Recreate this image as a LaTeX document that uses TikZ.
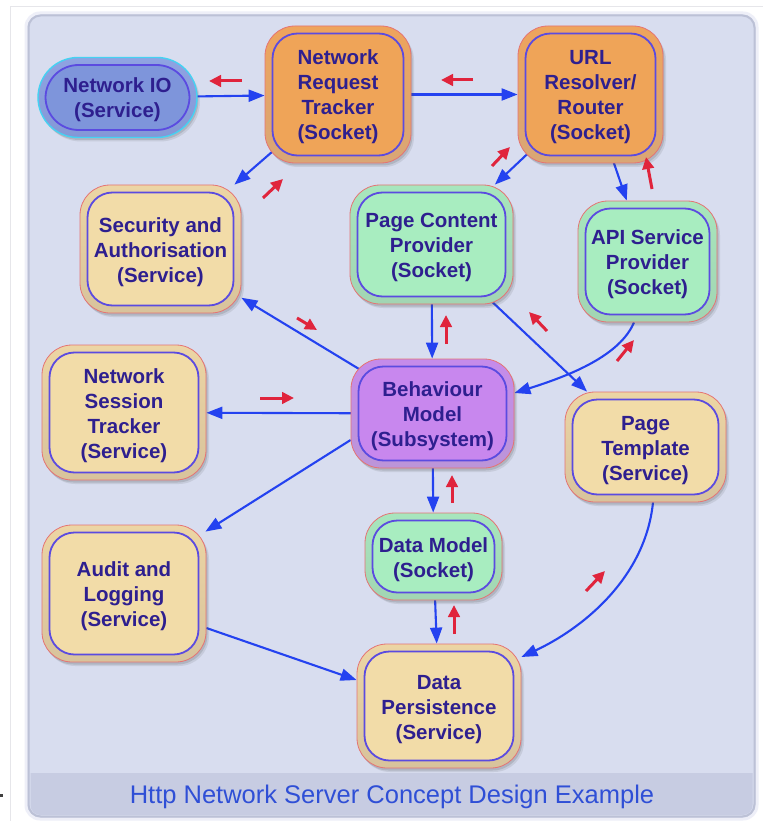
\documentclass[tikz,border=0pt]{standalone}
\usepackage{fontspec}
\setmainfont{Liberation Sans}
\usetikzlibrary{arrows.meta,shadows}

\definecolor{panelbg}{HTML}{D8DDEF}
\definecolor{panelrim}{HTML}{EEEFF8}
\definecolor{panelshade}{HTML}{BCC1D6}
\definecolor{bandbg}{HTML}{C7CCE2}
\definecolor{captionblue}{HTML}{2F4FD6}
\definecolor{framegray}{HTML}{E6E6EA}
\definecolor{ink}{HTML}{2E1F8F}
\definecolor{innerline}{HTML}{5B4BE0}
\definecolor{edgeblue}{HTML}{2442F0}
\definecolor{hintred}{HTML}{E0243C}
\definecolor{rimred}{HTML}{E57373}
\definecolor{tanin}{HTML}{F2DCA8}
\definecolor{tantop}{HTML}{ECD5A4}
\definecolor{tanbot}{HTML}{D8C39C}
\definecolor{greenin}{HTML}{A8EDC0}
\definecolor{greentop}{HTML}{A7E6BD}
\definecolor{greenbot}{HTML}{A2D5B3}
\definecolor{orangein}{HTML}{EFA458}
\definecolor{orangetop}{HTML}{EEA45C}
\definecolor{orangebot}{HTML}{D9A676}
\definecolor{purplein}{HTML}{C887EE}
\definecolor{purpletop}{HTML}{C58BEA}
\definecolor{purplebot}{HTML}{BC95D8}
\definecolor{bluein}{HTML}{7E95DB}
\definecolor{bluetop}{HTML}{8FA3E2}
\definecolor{bluebot}{HTML}{8498D6}
\definecolor{cyanrim}{HTML}{45D2F2}

\pgfdeclarelayer{back}
\pgfdeclarelayer{edges}
\pgfsetlayers{back,edges,main}

% centred block of lines, drawn a little below the box centre
\newcommand\boxlines[1]{\raisebox{-3pt}[\height][\depth]{\begin{tabular}{@{}c@{}}#1\end{tabular}}}

\tikzset{
  inner fill/.store in=\innerfill, inner fill=white,
  inner radius/.store in=\innerrad, inner radius=25pt,
  box/.style={
    rounded corners=30pt, draw=rimred, line width=0.8pt,
    inner sep=0pt, text=ink,
    font=\fontsize{20.5}{25}\selectfont\bfseries,
    drop shadow={shadow xshift=3pt,shadow yshift=-4pt,opacity=.12,fill=black!70},
    drop shadow={shadow xshift=1.5pt,shadow yshift=-2.5pt,opacity=.18,fill=black!70},
    path picture={
      \draw[line width=1.8pt, draw=innerline, fill=\innerfill, rounded corners=\innerrad]
        ([shift={(7.5pt,-7.5pt)}]path picture bounding box.north west) rectangle
        ([shift={(-7.5pt,7.5pt)}]path picture bounding box.south east);
    }},
  tanbox/.style={box, inner fill=tanin, top color=tantop, bottom color=tanbot},
  greenbox/.style={box, inner fill=greenin, top color=greentop, bottom color=greenbot},
  orangebox/.style={box, inner fill=orangein, top color=orangetop, bottom color=orangebot},
  purplebox/.style={box, inner fill=purplein, top color=purpletop, bottom color=purplebot},
  bluebox/.style={box, inner fill=bluein, top color=bluetop, bottom color=bluebot,
    draw=cyanrim, line width=1.4pt, rounded corners=40pt, inner radius=33pt},
  edge/.style={draw=edgeblue, line width=2.1pt, -{Triangle[length=16pt,width=12pt]}},
  hint/.style={draw=hintred, line width=3pt, -{Triangle[length=12pt,width=11.5pt]}},
}

\begin{document}
\begin{tikzpicture}[x=1pt,y=-1pt]
\useasboundingbox (0,0) rectangle (763,821);

% page frame and panel
\begin{pgfonlayer}{back}
  \fill[white] (0,0) rectangle (763,821);
  \draw[framegray, line width=0.8pt] (10,821) -- (10,6) -- (763,6);
  \fill[black!75] (0,794) rectangle (3,797);
  \draw[panelrim, line width=3pt, fill=panelbg, rounded corners=14pt] (26,13) rectangle (757,819);
  \draw[panelshade, line width=2pt, rounded corners=12pt] (28.5,15.5) rectangle (754.5,816.5);
  \fill[bandbg] (30.5,773) -- (752.5,773) [rounded corners=10pt] -- (752.5,815) -- (30.5,815) [sharp corners] -- cycle;
  \node[text=captionblue, font=\fontsize{25.5}{30}\selectfont, inner sep=0pt] (caption) at (392,797)
    {Http Network Server Concept Design Example};
\end{pgfonlayer}

% components
\node[bluebox,   minimum width=159pt, minimum height=80pt]  (nio) at (117.5,97.5) {\boxlines{Network IO\\(Service)}};
\node[orangebox, minimum width=146pt, minimum height=137pt] (nrt) at (338,94.5)   {\boxlines{Network\\Request\\Tracker\\(Socket)}};
\node[orangebox, minimum width=145pt, minimum height=137pt] (url) at (590.5,94.5) {\boxlines{URL\\Resolver/\\Router\\(Socket)}};
\node[tanbox,    minimum width=161pt, minimum height=128pt] (sec) at (160.5,249)  {\boxlines{Security and\\Authorisation\\(Service)}};
\node[greenbox,  minimum width=163pt, minimum height=119pt] (pc)  at (431.5,244.5) {\boxlines{Page Content\\Provider\\(Socket)}};
\node[greenbox,  minimum width=139pt, minimum height=121pt] (api) at (647.5,261.5) {\boxlines{API Service\\Provider\\(Socket)}};
\node[tanbox,    minimum width=164pt, minimum height=135pt] (ns)  at (124,412.5)  {\boxlines{Network\\Session\\Tracker\\(Service)}};
\node[purplebox, minimum width=163pt, minimum height=109pt] (bm)  at (432.5,413.5) {\boxlines{Behaviour\\Model\\(Subsystem)}};
\node[tanbox,    minimum width=161pt, minimum height=110pt] (pt)  at (645.5,447)  {\boxlines{Page\\Template\\(Service)}};
\node[greenbox,  minimum width=137pt, minimum height=87pt]  (dm)  at (433.5,556.5) {\boxlines{Data Model\\(Socket)}};
\node[tanbox,    minimum width=164pt, minimum height=137pt] (aud) at (124,593.5)  {\boxlines{Audit and\\Logging\\(Service)}};
\node[tanbox,    minimum width=164pt, minimum height=124pt] (dp)  at (439,706)    {\boxlines{Data\\Persistence\\(Service)}};

% connectors (behind the components)
\begin{pgfonlayer}{edges}
  \draw[edge] (nio.center) -- (nrt);
  \draw[edge] (nrt.center) -- (url);
  \draw[edge] (nrt.center) -- (sec);
  \draw[edge] (url.center) -- (pc);
  \draw[edge] (url.center) -- (api);
  \draw[edge] (pc.center) -- (bm);
  \draw[edge] (pc.center) -- (pt);
  \draw[edge] ([xshift=-13.5pt]api.south) .. controls +(-14,33) and +(57,-18) .. ([yshift=20.5pt]bm.east);
  \draw[edge] (bm.center) -- (sec);
  \draw[edge] (bm.center) -- (ns);
  \draw[edge] ([yshift=-26.5pt]bm.west) -- ([shift={(-1pt,-7pt)}]aud.north east);
  \draw[edge] (bm.center) -- (dm);
  \draw[edge] (dm.center) -- (dp);
  \draw[edge] ([yshift=-34.5pt]aud.east) -- ([yshift=26pt]dp.west);
  \draw[edge] ([xshift=7.5pt]pt.south) .. controls +(-8,78) and +(58,-27) .. ([yshift=49pt]dp.east);
\end{pgfonlayer}

% reverse-direction markers
\draw[hint] (242,81) -- (209,81);
\draw[hint] (473,80) -- (441,80);
\draw[hint] (263,198) -- (283,179);
\draw[hint] (492,166) -- (510,147);
\draw[hint] (652,189) -- (646,157);
\draw[hint] (446,344) -- (446,315);
\draw[hint] (547,331) -- (529,312);
\draw[hint] (617,361) -- (634,340);
\draw[hint] (297,318) -- (317,330);
\draw[hint] (260,398) -- (294,398);
\draw[hint] (452,503) -- (452,475);
\draw[hint] (454,634) -- (454,605);
\draw[hint] (586,591) -- (605,571);
\end{tikzpicture}
\end{document}
